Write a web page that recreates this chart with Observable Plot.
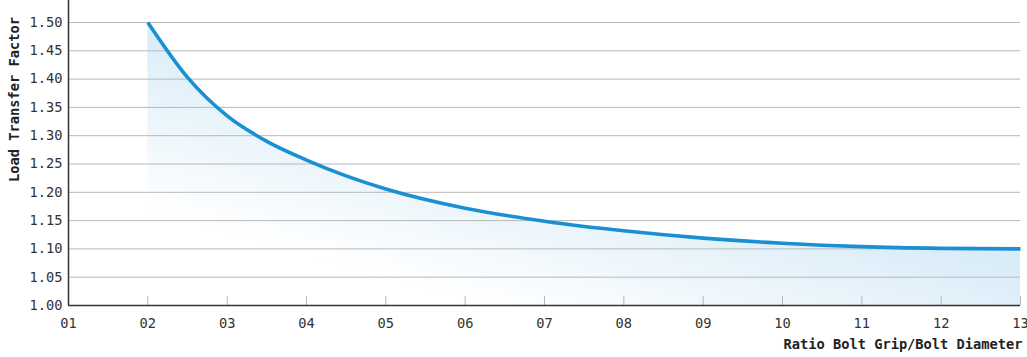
<!DOCTYPE html>
<html><head><meta charset="utf-8">
<script src="https://cdn.jsdelivr.net/npm/d3@7"></script>
<script src="https://cdn.jsdelivr.net/npm/@observablehq/plot@0.6"></script>
<style>body{margin:0;background:#fff} #chart svg{display:block}</style>
</head><body><div id="chart"></div>
<script>
// Data
const ratio  = [2, 2.5, 3, 3.5, 4, 4.5, 5, 6, 7, 8, 9, 10, 11, 12, 13];
const factor = [1.500, 1.403, 1.335, 1.290, 1.257, 1.229, 1.206, 1.172, 1.149, 1.132, 1.119, 1.110, 1.104, 1.101, 1.100];
const xTicks = [1, 2, 3, 4, 5, 6, 7, 8, 9, 10, 11, 12, 13];
const yTicks = [1.00, 1.05, 1.10, 1.15, 1.20, 1.25, 1.30, 1.35, 1.40, 1.45, 1.50];
const xTitle = "Ratio Bolt Grip/Bolt Diameter";
const yTitle = "Load Transfer Factor";

const data = ratio.map((r, i) => ({ratio: r, factor: factor[i]}));
const yMin = yTicks[0], yMax = yTicks[yTicks.length - 1];
const xMin = xTicks[0], xMax = xTicks[xTicks.length - 1];

const chart = Plot.plot({
  width: 1027,
  height: 357,
  marginLeft: 68,
  marginRight: 7,
  marginTop: 22,
  marginBottom: 52,
  style: {fontFamily: "'DejaVu Sans Mono', 'Liberation Mono', monospace", fontSize: "13.7px", color: "#333", background: "#fff"},
  x: {domain: [xMin, xMax], ticks: xTicks},
  y: {domain: [yMin, yMax], ticks: yTicks},
  marks: [
    Plot.areaY(data, {x: "ratio", y1: yMin, y2: "factor", curve: "monotone-x", fill: "url(#loadGrad)"}),
    Plot.gridY(yTicks.slice(1), {stroke: "#b8b8b8", strokeOpacity: 1}),
    Plot.ruleX(xTicks.slice(1), {x: d => d, insetTop: 274, stroke: "#b8b8b8"}),
    Plot.axisY({ticks: yTicks, tickSize: 0, tickPadding: 6, tickFormat: d3.format(".2f"), label: null, fill: "#333"}),
    Plot.axisX({ticks: xTicks, tickSize: 0, tickPadding: 13, tickFormat: d3.format("02d"), label: null, fill: "#333"}),
    Plot.ruleY([yMin], {stroke: "#333", strokeWidth: 1.5}),
    Plot.ruleX([xMin], {stroke: "#333", strokeWidth: 1.5, insetTop: -22}),
    Plot.line(data, {x: "ratio", y: "factor", curve: "monotone-x", stroke: "#1a90d2", strokeWidth: 3.6, strokeLinecap: "butt"}),
    Plot.text([xTitle], {frameAnchor: "bottom-right", text: d => d, textAnchor: "end", dx: 2, dy: 43.5, fontWeight: "bold", fill: "#222"}),
    Plot.text([yTitle], {frameAnchor: "top-left", text: d => d, textAnchor: "middle", rotate: -90, dx: -59, dy: 77, fontWeight: "bold", fill: "#222"})
  ]
});

// gradient for the area, positioned from the scales
const xs = chart.scale("x"), ys = chart.scale("y");
const svg = d3.select(chart);
const defs = svg.insert("defs", ":first-child");
const grad = defs.append("linearGradient")
  .attr("id", "loadGrad")
  .attr("gradientUnits", "userSpaceOnUse")
  .attr("x1", xs.apply(ratio[0])).attr("y1", ys.apply(yMax))
  .attr("x2", xs.apply(xMin)).attr("y2", ys.apply(yMin));
grad.append("stop").attr("offset", 0).attr("stop-color", "#d9ecf8");
grad.append("stop").attr("offset", 0.62).attr("stop-color", "#ffffff");

document.getElementById("chart").appendChild(chart);
</script>
</body></html>
